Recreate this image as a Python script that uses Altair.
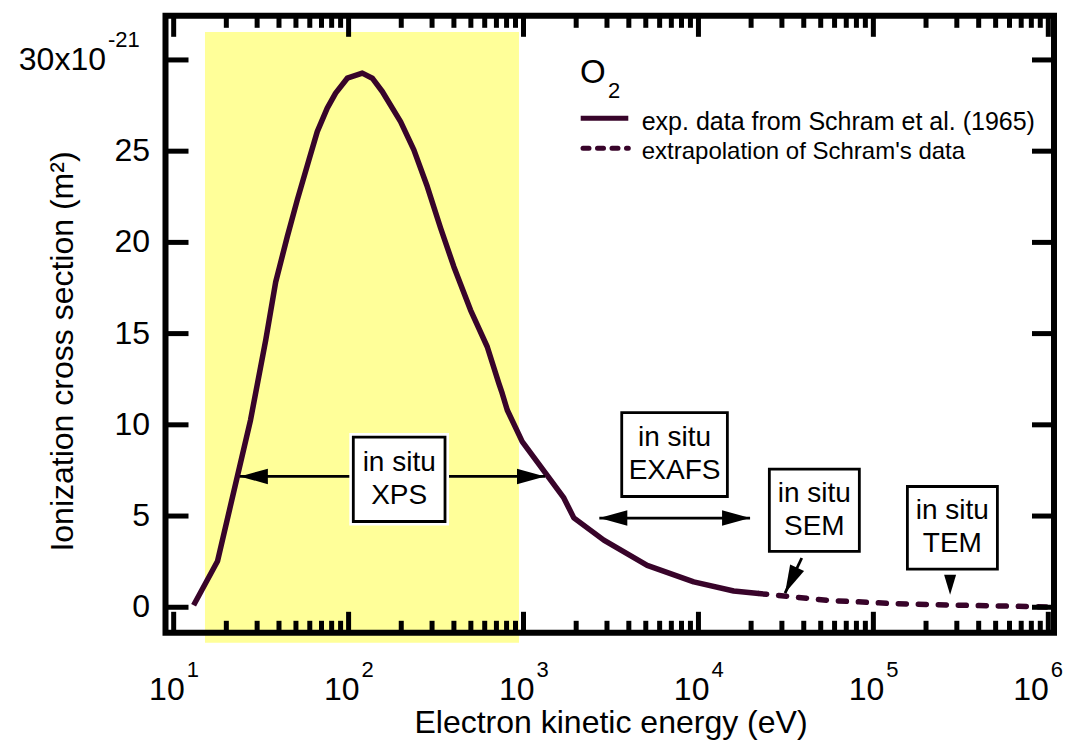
import altair as alt
import pandas as pd

# ---------------- data ----------------
energy_exp = [13.0, 17.8, 27.5, 33.6, 38.3, 44.6, 50.9, 59.3, 66.2, 75.5, 84.3, 98.3,
              119.8, 136.6, 155.8, 198.2, 236.1, 281.7, 335.6, 399.6, 497.9, 620.2,
              722.6, 755.6, 807.0, 983.0, 1336, 1700, 1939, 2877, 5093, 9400, 15910, 22110]
sigma_exp = [0.11, 2.52, 10.26, 14.65, 17.83, 20.31, 22.33, 24.52, 26.07, 27.36, 28.18, 29.0,
             29.28, 29.0, 28.27, 26.62, 25.07, 23.06, 20.79, 18.67, 16.29, 14.28,
             12.27, 11.72, 10.81, 9.08, 7.35, 5.99, 4.90, 3.68, 2.30, 1.39, 0.89, 0.75]
energy_ext = [22110, 32130, 54370, 130600, 314200, 983000]
sigma_ext = [0.75, 0.60, 0.38, 0.20, 0.11, 0.02]

x_major = [10, 100, 1000, 10000, 100000, 1000000]
x_major_exp = ["1", "2", "3", "4", "5", "6"]
x_label_base = "10"
minor_mult = [2, 3, 4, 5, 6, 7, 8, 9]
x_minor = [m * d for d in x_major[:-1] for m in minor_mult]

y_ticks = [0, 5, 10, 15, 20, 25, 30]
y_labels = ["0", "5", "10", "15", "20", "25", "30x10"]
y_top_exp = "-21"

band_E = [15.1, 942]
band_s = [31.53, -1.945]

box_labels = ["in situ\nXPS", "in situ\nEXAFS", "in situ\nSEM", "in situ\nTEM"]
box_E_lo = [106.4, 3643, 25430, 156500]
box_E_hi = [355.8, 14635, 83140, 511700]
box_s_top = [9.33, 10.67, 7.57, 6.62]
box_s_bot = [4.70, 6.07, 3.06, 2.09]
box_E_mid = [194.7, 7302, 45990, 282900]
box_s_mid = [7.01, 8.37, 5.32, 4.36]

arrow_E_lo = [23.9, 2713]
arrow_E_hi = [1327, 19730]
arrow_s = [7.17, 4.89]

sem_from = [38960, 2.70]
sem_to = [31270, 0.78]
tem_tip = [274600, 0.68]

x_title = "Electron kinetic energy (eV)"
y_title = "Ionization cross section (m²)"
legend_gas = "O"
legend_gas_sub = "2"
legend_solid = "exp. data from Schram et al. (1965)"
legend_dashed = "extrapolation of Schram's data"

# ---------------- styling ----------------
FONT = "Liberation Sans"
INK = "#38042a"
W = 888.5
H = 617

xs = alt.Scale(type="log", domain=[8.98, 1.078e6], nice=False)
ys = alt.Scale(domain=[-1.4, 32.42], nice=False, zero=False)


def ex(f):
    return alt.X(f"{f}:Q", scale=xs, axis=None)


def ey(f):
    return alt.Y(f"{f}:Q", scale=ys, axis=None)


one = alt.Data(values=[{"k": 0}])

band = alt.Chart(pd.DataFrame({"lo": [band_E[0]], "hi": [band_E[1]],
                               "top": [band_s[0]], "bot": [band_s[1]]})).mark_rect(
    color="#ffff99").encode(x=ex("lo"), x2="hi", y=ey("top"), y2="bot")

solid = alt.Chart(pd.DataFrame({"E": energy_exp, "s": sigma_exp})).mark_line(
    color=INK, strokeWidth=5.5, strokeJoin="round").encode(x=ex("E"), y=ey("s"))

dashed = alt.Chart(pd.DataFrame({"E": energy_ext, "s": sigma_ext})).mark_line(
    color=INK, strokeWidth=5.5, strokeDash=[8, 12], strokeCap="round").encode(
    x=ex("E"), y=ey("s"))

arr_df = pd.DataFrame({"lo": arrow_E_lo, "hi": arrow_E_hi, "s": arrow_s})
arr_lines = alt.Chart(arr_df).mark_rule(color="black", strokeWidth=2.8).encode(
    x=ex("lo"), x2="hi", y=ey("s"))
head_style = dict(filled=True, color="black", opacity=1, strokeWidth=0)
head_r = alt.Chart(arr_df).mark_point(shape="M0,0L-2,-0.55L-2,0.55Z", size=784,
                                      **head_style).encode(x=ex("hi"), y=ey("s"))
head_l = alt.Chart(arr_df).mark_point(shape="M0,0L2,-0.55L2,0.55Z", size=784,
                                      **head_style).encode(x=ex("lo"), y=ey("s"))

sem_df = pd.DataFrame({"E": [sem_from[0]], "E2": [sem_to[0]],
                       "s": [sem_from[1]], "s2": [sem_to[1]]})
sem_line = alt.Chart(sem_df).mark_rule(color="black", strokeWidth=2.8).encode(
    x=ex("E"), x2="E2", y=ey("s"), y2="s2")
sem_head = alt.Chart(sem_df).mark_point(shape="M0,0L-0.55,-2L0.55,-2Z", size=784, angle=25.5,
                                        **head_style).encode(x=ex("E2"), y=ey("s2"))
tem_head = alt.Chart(pd.DataFrame({"E": [tem_tip[0]], "s": [tem_tip[1]]})).mark_point(
    shape="M0,0L-0.3,-1L0.3,-1Z", size=1600, **head_style).encode(x=ex("E"), y=ey("s"))

box_df = pd.DataFrame({"lo": box_E_lo, "hi": box_E_hi, "top": box_s_top, "bot": box_s_bot,
                       "cx": box_E_mid, "cy": box_s_mid, "label": box_labels})
halo = alt.Chart(box_df).mark_rect(fill="white", stroke="white", strokeWidth=8).encode(
    x=ex("lo"), x2="hi", y=ey("top"), y2="bot")
boxes = alt.Chart(box_df).mark_rect(fill="white", stroke="black", strokeWidth=2.8).encode(
    x=ex("lo"), x2="hi", y=ey("top"), y2="bot")
box_text = alt.Chart(box_df).mark_text(font=FONT, fontSize=28, lineBreak="\n", lineHeight=33,
                                       baseline="middle", align="center", dy=-16.5,
                                       color="black").encode(
    x=ex("cx"), y=ey("cy"), text="label:N")

frame = alt.Chart(one).mark_rect(fillOpacity=0, stroke="black", strokeWidth=6).encode(
    x=alt.value(0), x2=alt.value(W), y=alt.value(0), y2=alt.value(H))

tick = dict(color="black", strokeWidth=5)
xmaj_df = pd.DataFrame({"v": x_major, "e": x_major_exp})
xmin_df = pd.DataFrame({"v": x_minor})
ytk_df = pd.DataFrame({"v": y_ticks, "label": y_labels})
xmaj_bot = alt.Chart(xmaj_df).mark_rule(**tick).encode(x=ex("v"), y=alt.value(H), y2=alt.value(H - 21))
xmaj_top = alt.Chart(xmaj_df).mark_rule(**tick).encode(x=ex("v"), y=alt.value(0), y2=alt.value(21))
xmin_bot = alt.Chart(xmin_df).mark_rule(**tick).encode(x=ex("v"), y=alt.value(H), y2=alt.value(H - 12))
xmin_top = alt.Chart(xmin_df).mark_rule(**tick).encode(x=ex("v"), y=alt.value(0), y2=alt.value(12))
ytk_l = alt.Chart(ytk_df).mark_rule(**tick).encode(y=ey("v"), x=alt.value(0), x2=alt.value(23))
ytk_r = alt.Chart(ytk_df).mark_rule(**tick).encode(y=ey("v"), x=alt.value(W), x2=alt.value(W - 22))

txt = dict(font=FONT, color="black")
xlab = alt.Chart(xmaj_df).transform_filter("datum.v < 500000").mark_text(
    text=x_label_base, fontSize=32, align="right", baseline="alphabetic", dx=11, **txt).encode(
    x=ex("v"), y=alt.value(684))
xsup = alt.Chart(xmaj_df).transform_filter("datum.v < 500000").mark_text(
    fontSize=22, align="left", baseline="alphabetic", dx=13, **txt).encode(
    x=ex("v"), y=alt.value(661), text="e:N")
xlab6 = alt.Chart(xmaj_df).transform_filter("datum.v >= 500000").mark_text(
    text=x_label_base, fontSize=32, align="right", baseline="alphabetic", dx=0.5, **txt).encode(
    x=ex("v"), y=alt.value(684))
xsup6 = alt.Chart(xmaj_df).transform_filter("datum.v >= 500000").mark_text(
    fontSize=22, align="left", baseline="alphabetic", dx=2.5, **txt).encode(
    x=ex("v"), y=alt.value(661), text="e:N")

ylab = alt.Chart(ytk_df).transform_filter("datum.v < 30").mark_text(
    fontSize=32, align="right", baseline="middle", **txt).encode(
    y=ey("v"), x=alt.value(-15.5), text="label:N")
ylab30 = alt.Chart(ytk_df).transform_filter("datum.v >= 30").mark_text(
    fontSize=32, align="right", baseline="middle", **txt).encode(
    y=ey("v"), x=alt.value(-59.5), text="label:N")
ysup30 = alt.Chart(ytk_df).transform_filter("datum.v >= 30").mark_text(
    text=y_top_exp, fontSize=22, align="left", baseline="middle", dy=-20, **txt).encode(
    y=ey("v"), x=alt.value(-57.5))

ytitle = alt.Chart(one).mark_text(text=y_title, angle=270, fontSize=32, align="center",
                                  baseline="alphabetic", **txt).encode(
    x=alt.value(-92.5), y=alt.value(335.7))
xtitle = alt.Chart(one).mark_text(text=x_title, fontSize=32, align="center",
                                  baseline="alphabetic", **txt).encode(
    x=alt.value(445.5), y=alt.value(717.5))

leg_o = alt.Chart(one).mark_text(text=legend_gas, fontSize=33, align="left",
                                 baseline="alphabetic", **txt).encode(x=alt.value(414.5), y=alt.value(67.2))
leg_sub = alt.Chart(one).mark_text(text=legend_gas_sub, fontSize=22, align="left",
                                   baseline="alphabetic", **txt).encode(x=alt.value(442.5), y=alt.value(82.2))
leg_l1 = alt.Chart(one).mark_rule(color=INK, strokeWidth=5).encode(
    x=alt.value(415.2), x2=alt.value(462.8), y=alt.value(102.5))
leg_l2 = alt.Chart(one).mark_rule(color=INK, strokeWidth=5, strokeDash=[6, 8.5], strokeCap="round").encode(
    x=alt.value(417.5), x2=alt.value(462.8), y=alt.value(132.5))
leg_t1 = alt.Chart(one).mark_text(text=legend_solid, fontSize=25, align="left",
                                  baseline="alphabetic", **txt).encode(x=alt.value(476.2), y=alt.value(114.2))
leg_t2 = alt.Chart(one).mark_text(text=legend_dashed, fontSize=24, align="left",
                                  baseline="alphabetic", **txt).encode(x=alt.value(476.2), y=alt.value(143.5))

chart = alt.layer(
    band, solid, dashed, arr_lines, head_r, head_l, sem_line, sem_head, tem_head,
    halo, boxes, box_text, frame,
    xmaj_bot, xmaj_top, xmin_bot, xmin_top, ytk_l, ytk_r,
    xlab, xsup, xlab6, xsup6, ylab, ylab30, ysup30, ytitle, xtitle,
    leg_o, leg_sub, leg_l1, leg_l2, leg_t1, leg_t2,
).properties(
    width=W, height=H,
    padding={"left": 157.5, "top": 7.8, "right": 10, "bottom": 109.2},
    autosize=alt.AutoSizeParams(type="none"),
    background="white",
).configure_view(stroke=None)

chart.save("out.html", embed_options={"renderer": "svg", "actions": False})
